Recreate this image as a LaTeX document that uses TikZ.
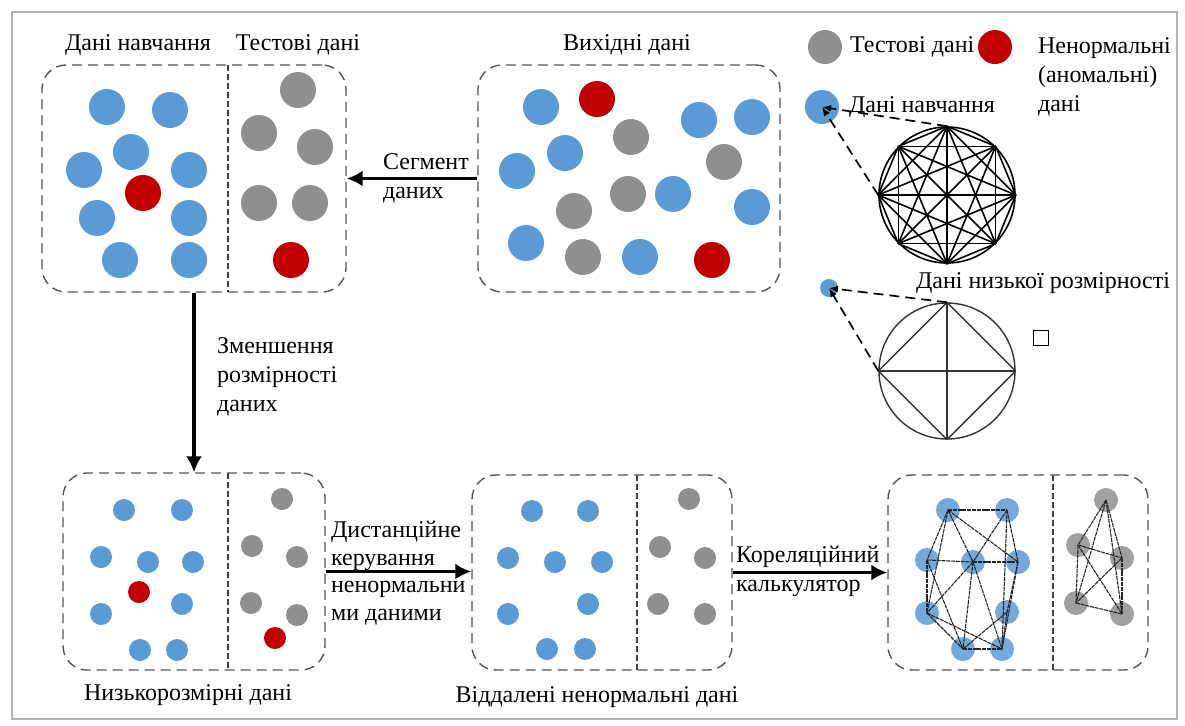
\documentclass[tikz,border=0pt]{standalone}
\usepackage{fontspec}
\setmainfont{Liberation Serif}
\usetikzlibrary{arrows.meta}
\definecolor{trainblue}{HTML}{5B9BD5}
\definecolor{testgray}{HTML}{8F8F8F}
\definecolor{anomred}{HTML}{C00000}
\definecolor{boxgray}{HTML}{555555}
\tikzset{
  every picture/.style={
    >={Latex[width=8pt, length=8pt]}
  },
  point/.style={
    circle, inner sep=0pt, minimum size=18pt
  },
  small point/.style={
    circle, inner sep=0pt, minimum size=11pt
  },
  databox/.style={
    draw=boxgray, line width=0.7pt, dash pattern=on 5pt off 3pt,
    rounded corners=12pt, inner sep=0pt
  },
  split/.style={draw=black!75, line width=0.6pt, dash pattern=on 3pt off 1.5pt},
  flow/.style={->, line width=1.6pt},
  guide/.style={-{Latex[width=3.5pt, length=4.5pt]}, line width=0.85pt, dash pattern=on 5pt off 3pt},
  link/.style={line width=0.55pt, black!85, dash pattern=on 2pt off 0.4pt}
}

\begin{document}
\begin{tikzpicture}[x=0.5pt, y=-0.5pt, font=\fontsize{12}{14.5}\selectfont]
  \useasboundingbox (0,0) rectangle (1185,725);
  \draw[black!30, line width=1pt] (12,12) rectangle (1177,719);

  % split data: training part | test part
  \node[databox, minimum width=152pt, minimum height=113.5pt] (segbox) at (194,178.5) {};
  \draw[split] (228,65) -- (228,292);
  \node (segtrain) at (138,45) {Дані навчання};
  \node (segtest) at (298,45) {Тестові дані};
  \foreach \x/\y [count=\i] in {107/107,170/110,131/152,84/170,189/170,97/218,189/218,120/260,189/260}
    \node[point, fill=trainblue] (sb\i) at (\x,\y) {};
  \foreach \x/\y [count=\i] in {298/90,259/133,315/147,259/203,310/203}
    \node[point, fill=testgray] (sg\i) at (\x,\y) {};
  \node[point, fill=anomred] (sr1) at (143,193) {};
  \node[point, fill=anomred] (sr2) at (291,260) {};

  % raw data
  \node[databox, minimum width=151pt, minimum height=113.5pt] (rawbox) at (629,178.5) {};
  \node (rawlbl) at (627,45) {Вихідні дані};
  \foreach \x/\y [count=\i] in {541/107,699/120,752/117,565/153,517/171,673/194,752/207,526/243,640/257}
    \node[point, fill=trainblue] (rb\i) at (\x,\y) {};
  \foreach \x/\y [count=\i] in {631/137,724/162,628/194,574/211,583/257}
    \node[point, fill=testgray] (rg\i) at (\x,\y) {};
  \node[point, fill=anomred] (rr1) at (597,99) {};
  \node[point, fill=anomred] (rr2) at (712,260) {};

  % low dimensional data
  \node[databox, minimum width=131pt, minimum height=98.5pt] (lowbox) at (194,571.5) {};
  \draw[split] (228,473) -- (228,670);
  \node (lowlbl) at (188,695) {Низькорозмірні дані};
  \foreach \x/\y [count=\i] in {124/510,182/510,101/557,148/562,193/562,182/604,101/614,140/650,177/650}
    \node[small point, fill=trainblue] (lb\i) at (\x,\y) {};
  \foreach \x/\y [count=\i] in {282/499,252/546,297/557,251/603,297/615}
    \node[small point, fill=testgray] (lg\i) at (\x,\y) {};
  \node[small point, fill=anomred] (lr1) at (139,592) {};
  \node[small point, fill=anomred] (lr2) at (275,638) {};

  % anomalies removed
  \node[databox, minimum width=130pt, minimum height=97.5pt] (cleanbox) at (602,572.5) {};
  \draw[split] (637,475) -- (637,670);
  \node (cleanlbl) at (597,697) {Віддалені ненормальні дані};
  \foreach \x/\y [count=\i] in {532/511,588/511,508/558,555/562,602/562,588/604,508/614,547/649,585/649}
    \node[small point, fill=trainblue] (cb\i) at (\x,\y) {};
  \foreach \x/\y [count=\i] in {689/499,660/547,705/558,658/604,705/614}
    \node[small point, fill=testgray] (cg\i) at (\x,\y) {};

  % correlation graphs
  \node[databox, minimum width=130pt, minimum height=97.5pt] (corrbox) at (1018,572.5) {};
  \draw[split] (1053,475) -- (1053,670);
  \foreach \x/\y [count=\i] in {948/510,1007/510,927/560,973/562,1018/562,927/613,1007/612,963/649,1002/649}
    \node[small point, minimum size=12pt, fill=trainblue, fill opacity=0.85] (kb\i) at (\x,\y) {};
  \foreach \x/\y [count=\i] in {1106/500,1078/545,1122/558,1076/603,1122/614}
    \node[small point, minimum size=12pt, fill=testgray, fill opacity=0.85] (kg\i) at (\x,\y) {};
  \foreach \a/\b in {1/2,1/3,1/4,1/5,1/6,2/4,2/5,2/9,3/4,4/5,3/6,3/8,4/6,4/8,4/9,5/7,5/9,6/8,6/9,7/8,7/9,8/9}
    \draw[link] (kb\a.center) -- (kb\b.center);
  \foreach \a/\b in {1/2,1/3,1/4,1/5,2/3,2/4,2/5,3/4,3/5,4/5}
    \draw[link] (kg\a.center) -- (kg\b.center);

  % steps
  \draw[flow] (rawbox.west) -- (segbox.east);
  \node[align=left, anchor=west] (seglbl) at (376,178) {Сегмент\\даних};
  \draw[flow] (segbox.south) -- (lowbox.north);
  \node[align=left, anchor=west] (lowstep) at (210,377) {Зменшення\\розмірності\\даних};
  \draw[flow] (lowbox.east) -- (lowbox.east -| cleanbox.west);
  \node[align=left, anchor=west, font=\fontsize{12}{13.8}\selectfont] (cleanstep) at (324,573) {Дистанційне\\керування\\ненормальни\\ми даними};
  \draw[flow] (cleanbox.east) -- (corrbox.west);
  \node[align=left, anchor=west] (corrstep) at (729,571) {Кореляційний\\калькулятор};

  % legend
  \node[point, minimum size=17pt, fill=testgray] (testkey) at (825,47) {};
  \node[anchor=west] (testkeylbl) at (843,47) {Тестові дані};
  \node[point, minimum size=17pt, fill=anomred] (anomkey) at (995,47) {};
  \node[anchor=west, align=left] (anomkeylbl) at (1031,77) {Ненормальні\\(аномальні)\\дані};
  \node[point, minimum size=17pt, fill=trainblue] (trainkey) at (822,107) {};
  \node[anchor=west] (trainkeylbl) at (842,107) {Дані навчання};
  \node[point, minimum size=9pt, fill=trainblue] (lowkey) at (829,288) {};
  \node (lowkeylbl) at (1043,283) {Дані низької розмірності};

  % full graph of the training data
  \node[circle, draw, line width=0.8pt, minimum size=68pt, inner sep=0pt] (full) at (947,195) {};
  \foreach \a in {0,45,...,315}
    \foreach \b in {0,45,...,315}
      {\ifnum\a<\b \draw[line width=0.8pt] (full.\a) -- (full.\b); \fi}
  \draw[guide] (full.90) -- (trainkey.center);
  \draw[guide] (full.180) -- (trainkey.center);

  % graph after reduction
  \node[circle, draw=black!80, line width=0.7pt, minimum size=68pt, inner sep=0pt] (reduced) at (947,371) {};
  \foreach \a in {0,90,180,270}
    \foreach \b in {0,90,180,270}
      {\ifnum\a<\b \draw[black!80, line width=0.7pt] (reduced.\a) -- (reduced.\b); \fi}
  \draw[guide] (reduced.90) -- (lowkey.center);
  \draw[guide] (reduced.180) -- (lowkey.center);
  \node[draw, line width=0.6pt, minimum size=7.5pt, inner sep=0pt] (mark) at (1041,338) {};
\end{tikzpicture}
\end{document}
